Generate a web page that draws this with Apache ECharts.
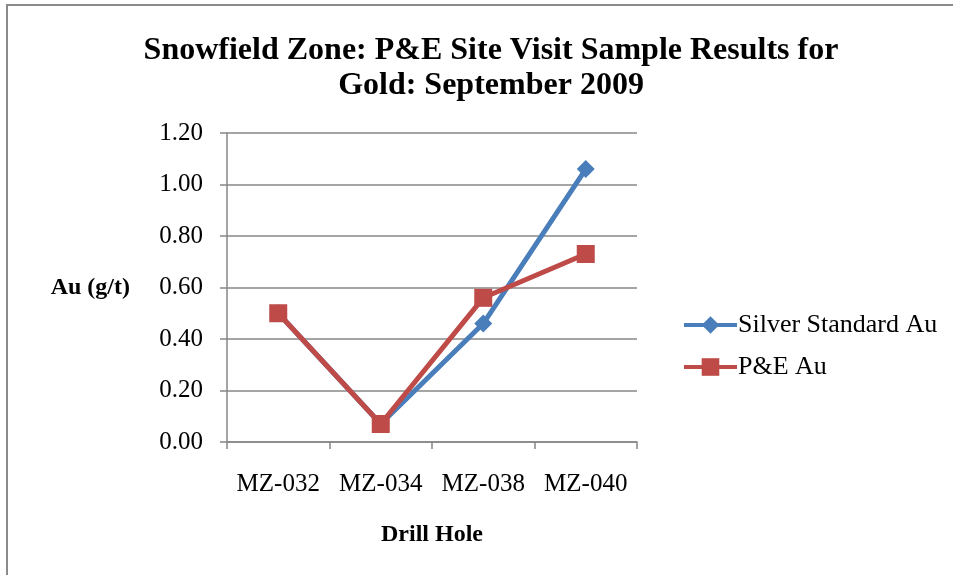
<!DOCTYPE html>
<html>
<head>
<meta charset="utf-8">
<script src="https://cdn.jsdelivr.net/npm/echarts@6/dist/echarts.min.js"></script>
<style>
  html, body { margin: 0; padding: 0; background: #fff; }
  #chart { width: 953px; height: 575px; }
</style>
</head>
<body>
<div id="chart"></div>
<script>
const holes = ['MZ-032', 'MZ-034', 'MZ-038', 'MZ-040'];
const silverStd = [0.50, 0.07, 0.46, 1.06];
const peAu = [0.50, 0.07, 0.56, 0.73];

const serif = '"Liberation Serif", "Times New Roman", serif';
const gridGrey = '#878787';

const chart = echarts.init(document.getElementById('chart'));

const option = {
  backgroundColor: '#fff',
  animation: false,
  title: {
    text: 'Snowfield Zone: P&E Site Visit Sample Results for\nGold: September 2009',
    left: 486,
    top: 28,
    textAlign: 'center',
    textStyle: {
      fontFamily: serif,
      fontWeight: 'bold',
      fontSize: 32,
      lineHeight: 35,
      color: '#000'
    }
  },
  legend: {
    orient: 'vertical',
    left: 677,
    top: 307,
    itemWidth: 53,
    itemHeight: 22,
    itemGap: 16,
    lineStyle: { width: 4 },
    textStyle: { fontFamily: serif, fontSize: 26, color: '#000', padding: [0, 0, 0, -4] },
    data: ['Silver Standard Au', 'P&E Au']
  },
  graphic: [{
    type: 'rect',
    shape: { x: 7, y: 5, width: 1200, height: 1200 },
    style: { fill: null, stroke: '#8a8a8a', lineWidth: 2 },
    silent: true
  }],
  grid: { left: 227, right: 316, top: 133, bottom: 133 },
  xAxis: {
    type: 'category',
    data: holes,
    boundaryGap: true,
    name: 'Drill Hole',
    nameLocation: 'middle',
    nameGap: 81,
    nameTextStyle: { fontFamily: serif, fontWeight: 'bold', fontSize: 24, color: '#000' },
    axisLine: { lineStyle: { color: gridGrey, width: 1.5 } },
    axisTick: { show: true, interval: 0, length: 7, lineStyle: { color: gridGrey, width: 1.5 } },
    axisLabel: { fontFamily: serif, fontSize: 25, color: '#000', margin: 30, interval: 0 }
  },
  yAxis: {
    type: 'value',
    min: 0,
    max: 1.2,
    interval: 0.2,
    name: 'Au (g/t)',
    nameLocation: 'middle',
    nameRotate: 0,
    nameGap: 97,
    nameTextStyle: {
      fontFamily: serif, fontWeight: 'bold', fontSize: 24, color: '#000',
      align: 'right', verticalAlign: 'middle', padding: [5, 0, 0, 0]
    },
    axisLine: { show: true, lineStyle: { color: gridGrey, width: 1.5 } },
    axisTick: { show: true, length: 7, lineStyle: { color: gridGrey, width: 1.5 } },
    axisLabel: {
      fontFamily: serif, fontSize: 25, color: '#000', margin: 24,
      formatter: v => v.toFixed(2)
    },
    splitLine: { lineStyle: { color: gridGrey, width: 1.5 } }
  },
  series: [
    {
      name: 'Silver Standard Au',
      type: 'line',
      data: silverStd,
      symbol: 'diamond',
      symbolSize: 18,
      lineStyle: { color: '#4a7ebb', width: 5 },
      itemStyle: { color: '#4a7ebb' }
    },
    {
      name: 'P&E Au',
      type: 'line',
      data: peAu,
      symbol: 'rect',
      symbolSize: 18,
      lineStyle: { color: '#be4b48', width: 5 },
      itemStyle: { color: '#be4b48' }
    }
  ]
};

chart.setOption(option);
</script>
</body>
</html>
